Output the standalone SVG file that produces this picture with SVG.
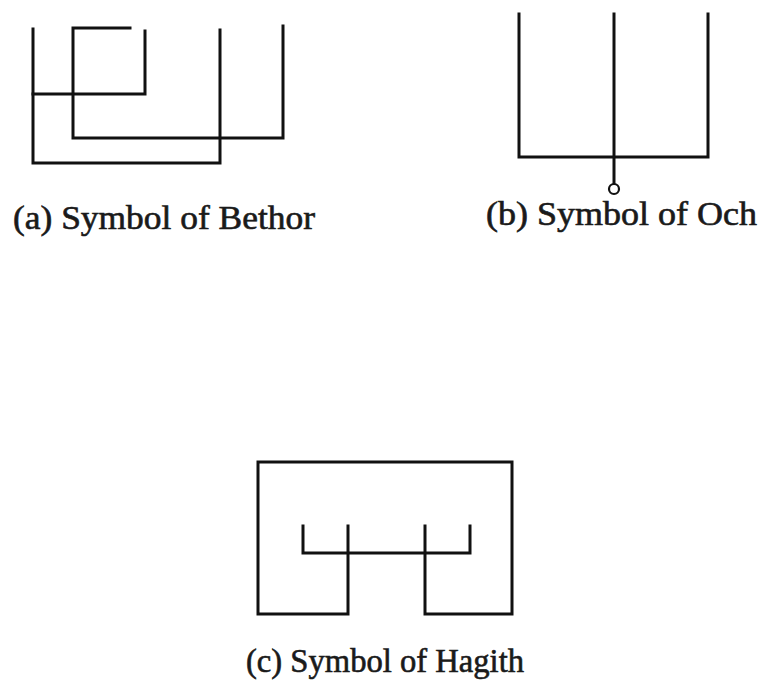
<svg xmlns="http://www.w3.org/2000/svg" width="762" height="685" viewBox="0 0 762 685">
<style>
.ln{fill:none;stroke:#111;stroke-width:3;stroke-linecap:square;stroke-linejoin:miter}
.lb{font-family:"Liberation Serif","DejaVu Serif",serif;font-size:33px;fill:#1a1a1a;stroke:#1a1a1a;stroke-width:0.6}
</style>
<rect width="762" height="685" fill="#fff"/>
<g id="bethor">
<path class="ln" d="M33,29 V163 H220 V30"/>
<path class="ln" d="M33,94 H145 V31"/>
<path class="ln" d="M130,28 H73 V138 H283 V26"/>
<text class="lb" x="13" y="229" textLength="302" lengthAdjust="spacingAndGlyphs">(a) Symbol of Bethor</text>
</g>
<g id="och">
<path class="ln" d="M519,14 V157 H708 V14"/>
<path class="ln" d="M614,14 V184"/>
<circle cx="614" cy="189" r="5" fill="#fff" stroke="#111" stroke-width="2.2"/>
<text class="lb" x="486" y="225" textLength="271" lengthAdjust="spacingAndGlyphs">(b) Symbol of Och</text>
</g>
<g id="hagith">
<path class="ln" d="M348,526 V614 H258 V462 H512 V614 H425 V526"/>
<path class="ln" d="M303,526 V553 H470 V526"/>
<text class="lb" x="246" y="672" textLength="278" lengthAdjust="spacingAndGlyphs">(c) Symbol of Hagith</text>
</g>
</svg>
